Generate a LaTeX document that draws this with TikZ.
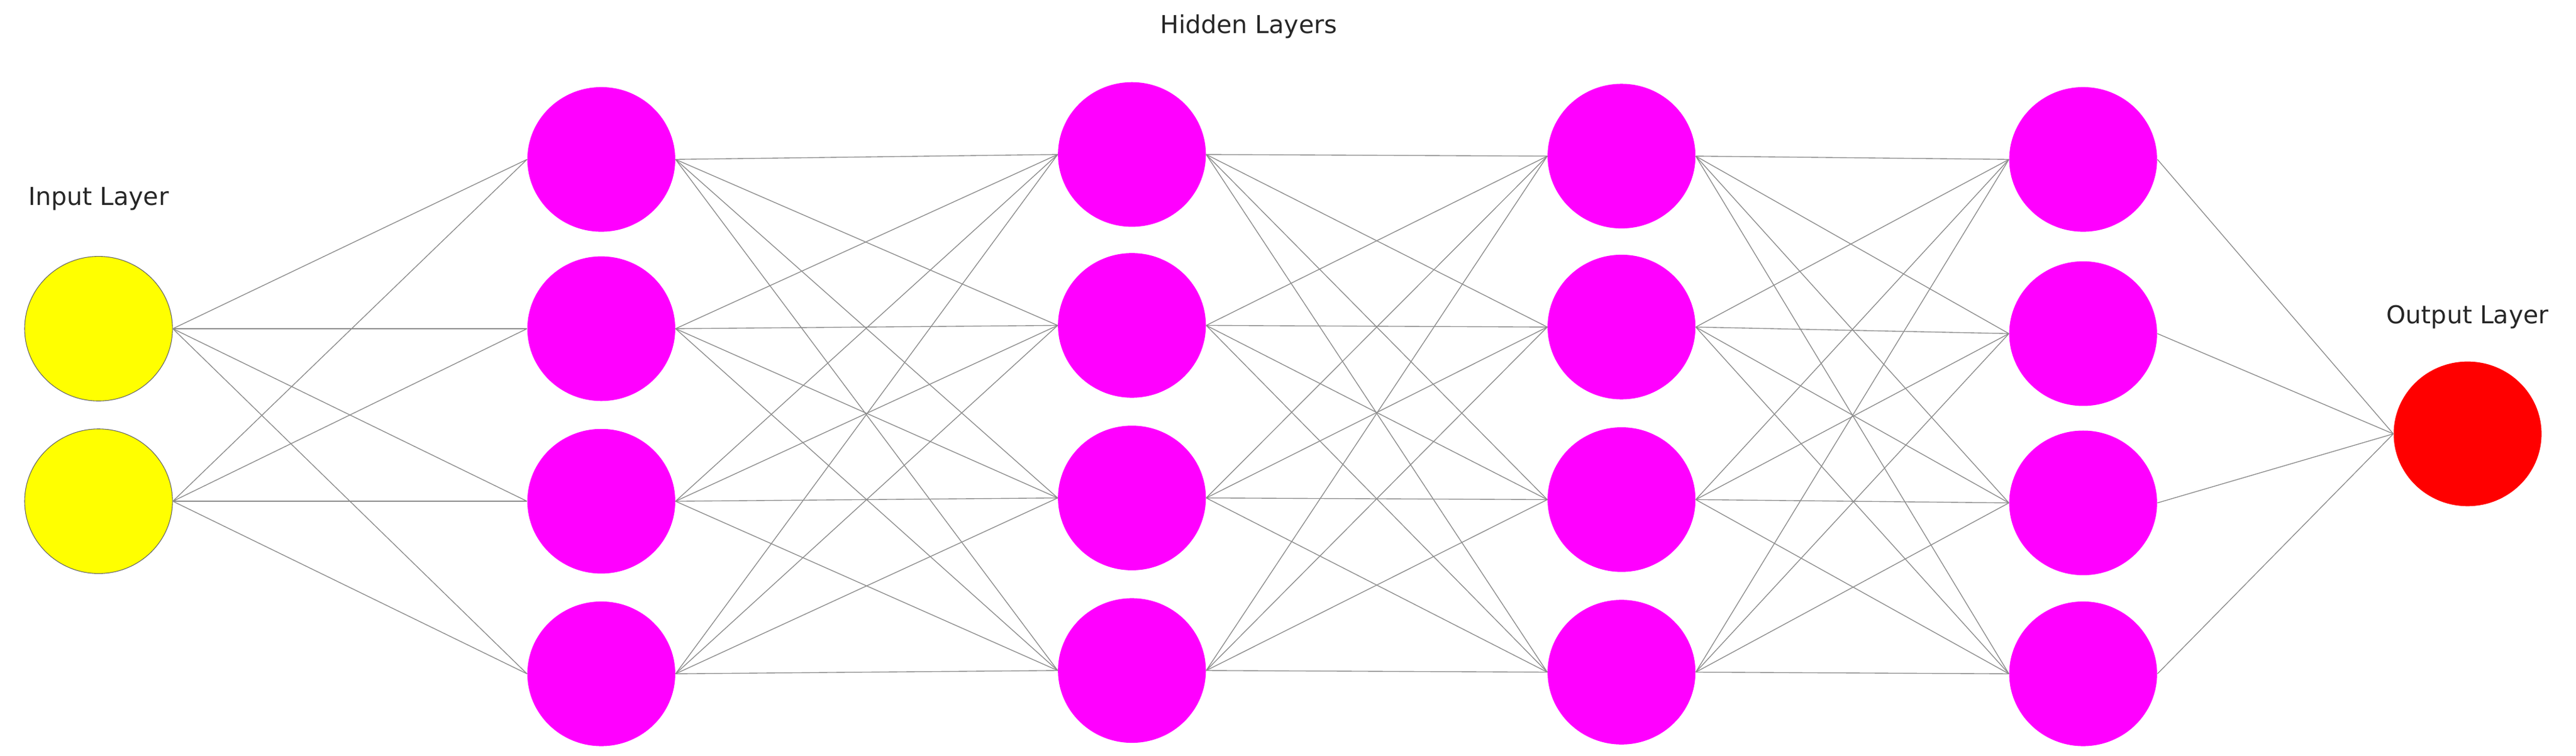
\documentclass[tikz,border=0pt]{standalone}
\usepackage{fontspec}
\setmainfont{DejaVu Sans}
\usetikzlibrary{shapes.geometric}
\definecolor{cyel}{RGB}{255,255,0}
\definecolor{cmag}{RGB}{255,0,255}
\definecolor{cred}{RGB}{255,0,0}
\begin{document}
\begin{tikzpicture}[x=1pt,y=-1pt,
  neuron/.style={ellipse,minimum width=90pt,minimum height=88pt,inner sep=0pt,draw=black!60,line width=0.4pt},
  inp/.style={neuron,fill=cyel},
  hid/.style={neuron,draw=none,fill=cmag},
  outp/.style={neuron,draw=none,fill=cred},
  edge/.style={draw=black!45,line width=0.5pt},
  lbl/.style={font=\fontsize{15}{18}\selectfont,text=black!85}]
\useasboundingbox (0,0) rectangle (1568,460);
\node[inp] (i1) at (60,200) {};
\node[inp] (i2) at (60,305) {};
\foreach \y [count=\k] in {97,200,305,410} \node[hid] (a\k) at (366,\y) {};
\foreach \y [count=\k] in {94,198,303,408} \node[hid] (b\k) at (689,\y) {};
\foreach \y [count=\k] in {95,199,304,409} \node[hid] (c\k) at (987,\y) {};
\foreach \y [count=\k] in {97,203,306,410} \node[hid] (d\k) at (1268,\y) {};
\node[outp] (o) at (1502,264) {};
\foreach \s in {1,2} \foreach \t in {1,...,4} \draw[edge] (i\s.east) -- (a\t.west);
\foreach \s in {1,...,4} \foreach \t in {1,...,4} {
  \draw[edge] (a\s.east) -- (b\t.west);
  \draw[edge] (b\s.east) -- (c\t.west);
  \draw[edge] (c\s.east) -- (d\t.west);}
\foreach \s in {1,...,4} \draw[edge] (d\s.east) -- (o.west);
\node[lbl] (li) at (60,121) {Input Layer};
\node[lbl] (lh) at (760,16) {Hidden Layers};
\node[lbl] (lo) at (1502,193) {Output Layer};
\end{tikzpicture}
\end{document}
